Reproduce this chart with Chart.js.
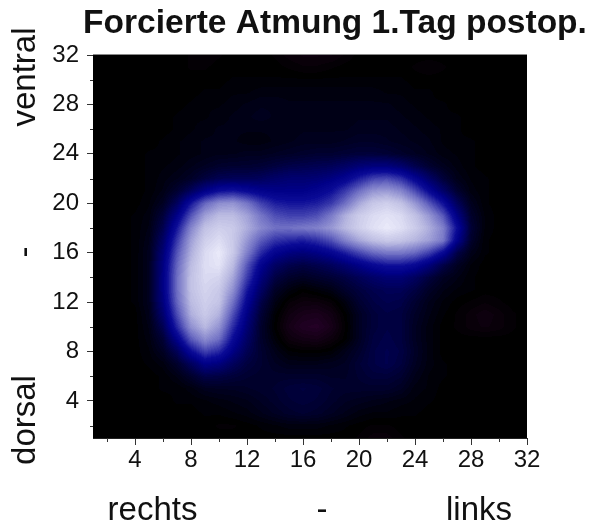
<!DOCTYPE html>
<html><head><meta charset="utf-8">
<style>html,body{margin:0;padding:0;background:#fff}canvas{display:block}</style>
<script src="https://cdn.jsdelivr.net/npm/chart.js@4"></script>
</head><body>
<div style="width:599px;height:526px"><canvas id="c" width="599" height="526"></canvas></div>
<script>
const titleText = "Forcierte Atmung 1.Tag postop.";
const xMajorTicks = [4,8,12,16,20,24,28,32];
const yMajorTicks = [4,8,12,16,20,24,28,32];
const minorTicks = [2,6,10,14,18,22,26,30];
const xWords = ["rechts","-","links"];
const yWords = ["ventral","-","dorsal"];
const row32=[0,0,0,0,0,0,0,-1,-2,-1,0,0,0,-1,-3,-4,-4,-4,-2,0,0,0,0,0,0,0,0,0,0,0,0,0];
const row31=[0,0,0,0,0,0,0,-1,-1,0,0,0,0,0,-1,-2,-2,-1,0,0,0,0,0,-1,-2,-1,0,0,0,0,0,0];
const row30=[0,0,0,0,0,0,0,0,0,0,1,1,1,1,1,1,1,1,1,1,1,1,1,0,0,0,0,0,0,0,0,0];
const row29=[0,0,0,0,0,0,0,0,1,1,2,2,3,3,3,3,3,3,3,3,3,2,2,1,1,0,0,0,0,0,0,0];
const row28=[0,0,0,0,0,0,0,1,2,2,3,4,5,5,4,4,4,4,4,4,4,4,3,2,1,1,0,0,0,0,0,0];
const row27=[0,0,0,0,0,0,1,2,2,3,4,5,6,5,4,4,4,4,4,5,5,5,4,3,2,1,1,0,0,0,0,0];
const row26=[0,0,0,0,0,0,1,2,3,4,4,4,4,4,4,5,5,5,5,6,6,6,5,4,3,2,1,0,0,0,0,0];
const row25=[0,0,0,0,0,1,2,3,4,4,4,3,3,4,5,6,6,6,7,8,8,7,6,5,4,2,1,1,0,0,0,0];
const row24=[0,0,0,0,1,1,2,3,4,5,5,6,6,7,8,9,10,10,11,12,12,11,9,7,5,3,2,1,0,0,0,0];
const row23=[0,0,0,0,1,2,3,5,7,9,10,10,11,13,15,16,17,18,21,25,27,27,23,16,10,6,3,1,0,0,0,0];
const row22=[0,0,0,0,1,3,5,8,13,17,18,18,19,22,24,24,25,28,33,42,50,52,46,34,22,12,5,2,1,0,0,0];
const row21=[0,0,0,0,1,4,10,19,30,38,40,36,32,30,30,30,33,38,48,60,70,72,66,52,36,22,10,3,1,0,0,0];
const row20=[0,0,0,0,2,7,19,40,58,68,70,62,50,42,40,40,42,48,60,75,85,88,83,71,55,39,19,6,1,0,0,0];
const row19=[0,0,0,1,3,12,30,54,73,81,81,74,62,53,50,50,53,63,77,87,92,95,92,83,71,55,29,9,2,0,0,0];
const row18=[0,0,0,1,4,16,40,66,83,88,86,77,67,61,61,63,65,71,80,88,94,98,94,87,77,65,38,11,2,0,0,0];
const row17=[0,0,0,1,5,21,48,73,88,93,86,71,56,47,44,42,46,53,65,75,82,86,84,79,73,63,32,9,1,0,0,0];
const row16=[0,0,0,1,6,25,54,77,92,98,86,65,45,33,28,26,29,34,42,51,59,63,63,59,50,36,15,5,1,0,0,0];
const row15=[0,0,0,1,6,28,58,81,93,96,81,55,33,21,16,14,16,19,24,30,36,40,40,36,27,15,7,2,0,0,0,0];
const row14=[0,0,0,1,6,29,60,83,92,90,75,49,27,14,9,7,9,11,14,18,22,25,25,20,13,7,4,1,0,0,0,0];
const row13=[0,0,0,1,6,29,60,83,90,86,69,41,21,8,3,0,2,4,9,13,16,18,18,14,8,4,2,1,0,0,0,0];
const row12=[0,0,0,1,6,27,58,81,88,84,61,35,15,4,-2,-4,-4,-2,3,10,14,16,15,10,5,2,0,-1,-2,-1,0,0];
const row11=[0,0,0,0,5,23,52,77,86,78,53,29,11,1,-5,-8,-9,-6,0,7,12,14,13,8,4,1,-1,-3,-5,-3,-1,0];
const row10=[0,0,0,0,4,17,44,69,80,70,45,25,9,0,-7,-11,-12,-8,-1,7,12,14,13,7,3,0,-1,-3,-4,-3,-1,0];
const row9=[0,0,0,0,3,11,31,55,68,60,37,21,9,2,-4,-6,-7,-4,0,7,13,15,13,7,3,0,0,0,0,0,0,0];
const row8=[0,0,0,0,2,7,18,37,50,44,29,17,10,5,1,0,0,1,5,9,14,16,14,8,3,0,0,0,0,0,0,0];
const row7=[0,0,0,0,1,3,9,19,30,27,19,13,10,7,5,5,5,6,7,11,14,16,13,7,3,1,0,0,0,0,0,0];
const row6=[0,0,0,0,0,1,4,9,15,14,12,10,9,9,9,9,9,8,8,10,12,12,10,5,2,1,0,0,0,0,0,0];
const row5=[0,0,0,0,0,1,1,3,6,7,7,8,9,10,12,13,12,10,9,9,9,9,7,3,2,0,0,0,0,0,0,0];
const row4=[0,0,0,0,0,0,1,1,2,3,4,5,7,9,11,12,11,9,7,6,5,4,3,2,1,0,0,0,0,0,0,0];
const row3=[0,0,0,0,0,0,0,0,1,1,2,3,5,7,9,10,9,7,5,3,2,2,1,1,0,0,0,0,0,0,0,0];
const row2=[0,0,0,0,0,0,0,0,0,-1,-1,0,1,2,3,3,3,2,1,0,-1,-1,0,0,0,0,0,0,0,0,0,0];
const row1=[0,0,0,0,0,0,0,0,0,0,0,0,0,0,0,0,0,0,0,-1,-3,-3,-1,0,0,0,0,0,0,0,0,0];
const rows=[row1,row2,row3,row4,row5,row6,row7,row8,row9,row10,row11,row12,row13,row14,row15,row16,row17,row18,row19,row20,row21,row22,row23,row24,row25,row26,row27,row28,row29,row30,row31,row32];

const cells=[];
rows.forEach((r,j)=>r.forEach((v,i)=>cells.push({x:i+1,y:j+1,v})));

const stops=[[-20,58,0,62],[0,0,0,0],[10,0,0,48],[20,0,0,95],[30,0,0,135],[38,10,10,150],[60,110,110,195],[80,185,185,225],[100,240,240,252]];
function colorOf(v){
  if(v<=stops[0][0])return stops[0].slice(1);
  for(let k=1;k<stops.length;k++){
    if(v<=stops[k][0]){
      const a=stops[k-1],b=stops[k],t=(v-a[0])/(b[0]-a[0]);
      return [a[1]+(b[1]-a[1])*t,a[2]+(b[2]-a[2])*t,a[3]+(b[3]-a[3])*t];
    }
  }
  return stops[stops.length-1].slice(1);
}
function sample(xv,yv){
  const fx=Math.min(31,Math.max(0,xv-1)),fy=Math.min(31,Math.max(0,yv-1));
  const i=Math.min(30,Math.floor(fx)),j=Math.min(30,Math.floor(fy));
  const tx=fx-i,ty=fy-j;
  return (rows[j][i]*(1-tx)+rows[j][i+1]*tx)*(1-ty)+(rows[j+1][i]*(1-tx)+rows[j+1][i+1]*tx)*ty;
}
const heatPlugin={
  id:'heat',
  afterLayout(chart){
    chart.titleBlock.left=83;chart.titleBlock.right=587;
  },
  beforeDatasetsDraw(chart){
    const {ctx,chartArea:a,scales:{x,y}}=chart;
    const w=Math.round(a.right-a.left),h=Math.round(a.bottom-a.top);
    const img=ctx.createImageData(w,h);
    for(let py=0;py<h;py++){
      const yv=y.getValueForPixel(a.top+py+0.5);
      for(let px=0;px<w;px++){
        const xv=x.getValueForPixel(a.left+px+0.5);
        const v=Math.round(sample(xv,yv)/1.5)*1.5;
        const c=colorOf(v),o=(py*w+px)*4;
        img.data[o]=c[0];img.data[o+1]=c[1];img.data[o+2]=c[2];img.data[o+3]=255;
      }
    }
    ctx.putImageData(img,Math.round(a.left),Math.round(a.top));
  },
  afterDraw(chart){
    const {ctx,chartArea:a,scales:{x,y}}=chart;
    ctx.save();
    ctx.strokeStyle='#333';ctx.lineWidth=1;
    ctx.beginPath();
    minorTicks.forEach(t=>{
      const px=Math.round(x.getPixelForValue(t))+0.5;
      ctx.moveTo(px,a.bottom);ctx.lineTo(px,a.bottom+4);
      const py=Math.round(y.getPixelForValue(t))+0.5;
      ctx.moveTo(a.left,py);ctx.lineTo(a.left-3,py);
    });
    ctx.stroke();
    ctx.strokeStyle='#888';
    ctx.beginPath();ctx.moveTo(a.left,a.top-0.5);ctx.lineTo(a.right,a.top-0.5);ctx.stroke();
    ctx.fillStyle='#111';ctx.font='33px "Liberation Sans"';ctx.textAlign='center';ctx.textBaseline='alphabetic';
    ctx.fillText(xWords[0],152.5,520);
    ctx.fillText(xWords[1],322,520);
    ctx.fillText(xWords[2],479,520);
    const ys=[77,252,420];
    yWords.forEach((t,k)=>{
      ctx.save();ctx.translate(35,ys[k]);ctx.rotate(-Math.PI/2);ctx.fillText(t,0,0);ctx.restore();
    });
    ctx.restore();
  }
};
const tickFont={family:'"Liberation Sans"',size:24};
new Chart(document.getElementById('c'),{
  type:'scatter',
  data:{datasets:[{label:'Atmung',data:cells,pointRadius:0,pointHoverRadius:0,showLine:false}]},
  options:{
    responsive:false,animation:false,
    layout:{padding:{left:0,top:0,right:72,bottom:0}},
    plugins:{
      legend:{display:false},tooltip:{enabled:false},
      title:{display:true,text:titleText,color:'#111',font:{family:'"Liberation Sans"',size:33.5,weight:'bold',lineHeight:1.2},padding:{top:4,bottom:10.8}}
    },
    scales:{
      x:{type:'linear',min:1,max:32,
        afterBuildTicks:s=>{s.ticks=xMajorTicks.map(value=>({value}));},
        afterFit:s=>{s.height=88;},
        grid:{drawOnChartArea:false,tickLength:7,tickColor:'#333',tickWidth:1},
        border:{color:'#222',width:1},
        ticks:{color:'#111',font:tickFont,padding:1,maxRotation:0,autoSkip:false}},
      y:{type:'linear',min:1,max:32,
        afterBuildTicks:s=>{s.ticks=yMajorTicks.map(value=>({value}));},
        afterFit:s=>{s.width=93;},
        grid:{drawOnChartArea:false,tickLength:6,tickColor:'#333',tickWidth:1},
        border:{color:'#222',width:1},
        ticks:{color:'#111',font:tickFont,padding:8,autoSkip:false}}
    }
  },
  plugins:[heatPlugin]
});
</script>
</body></html>
